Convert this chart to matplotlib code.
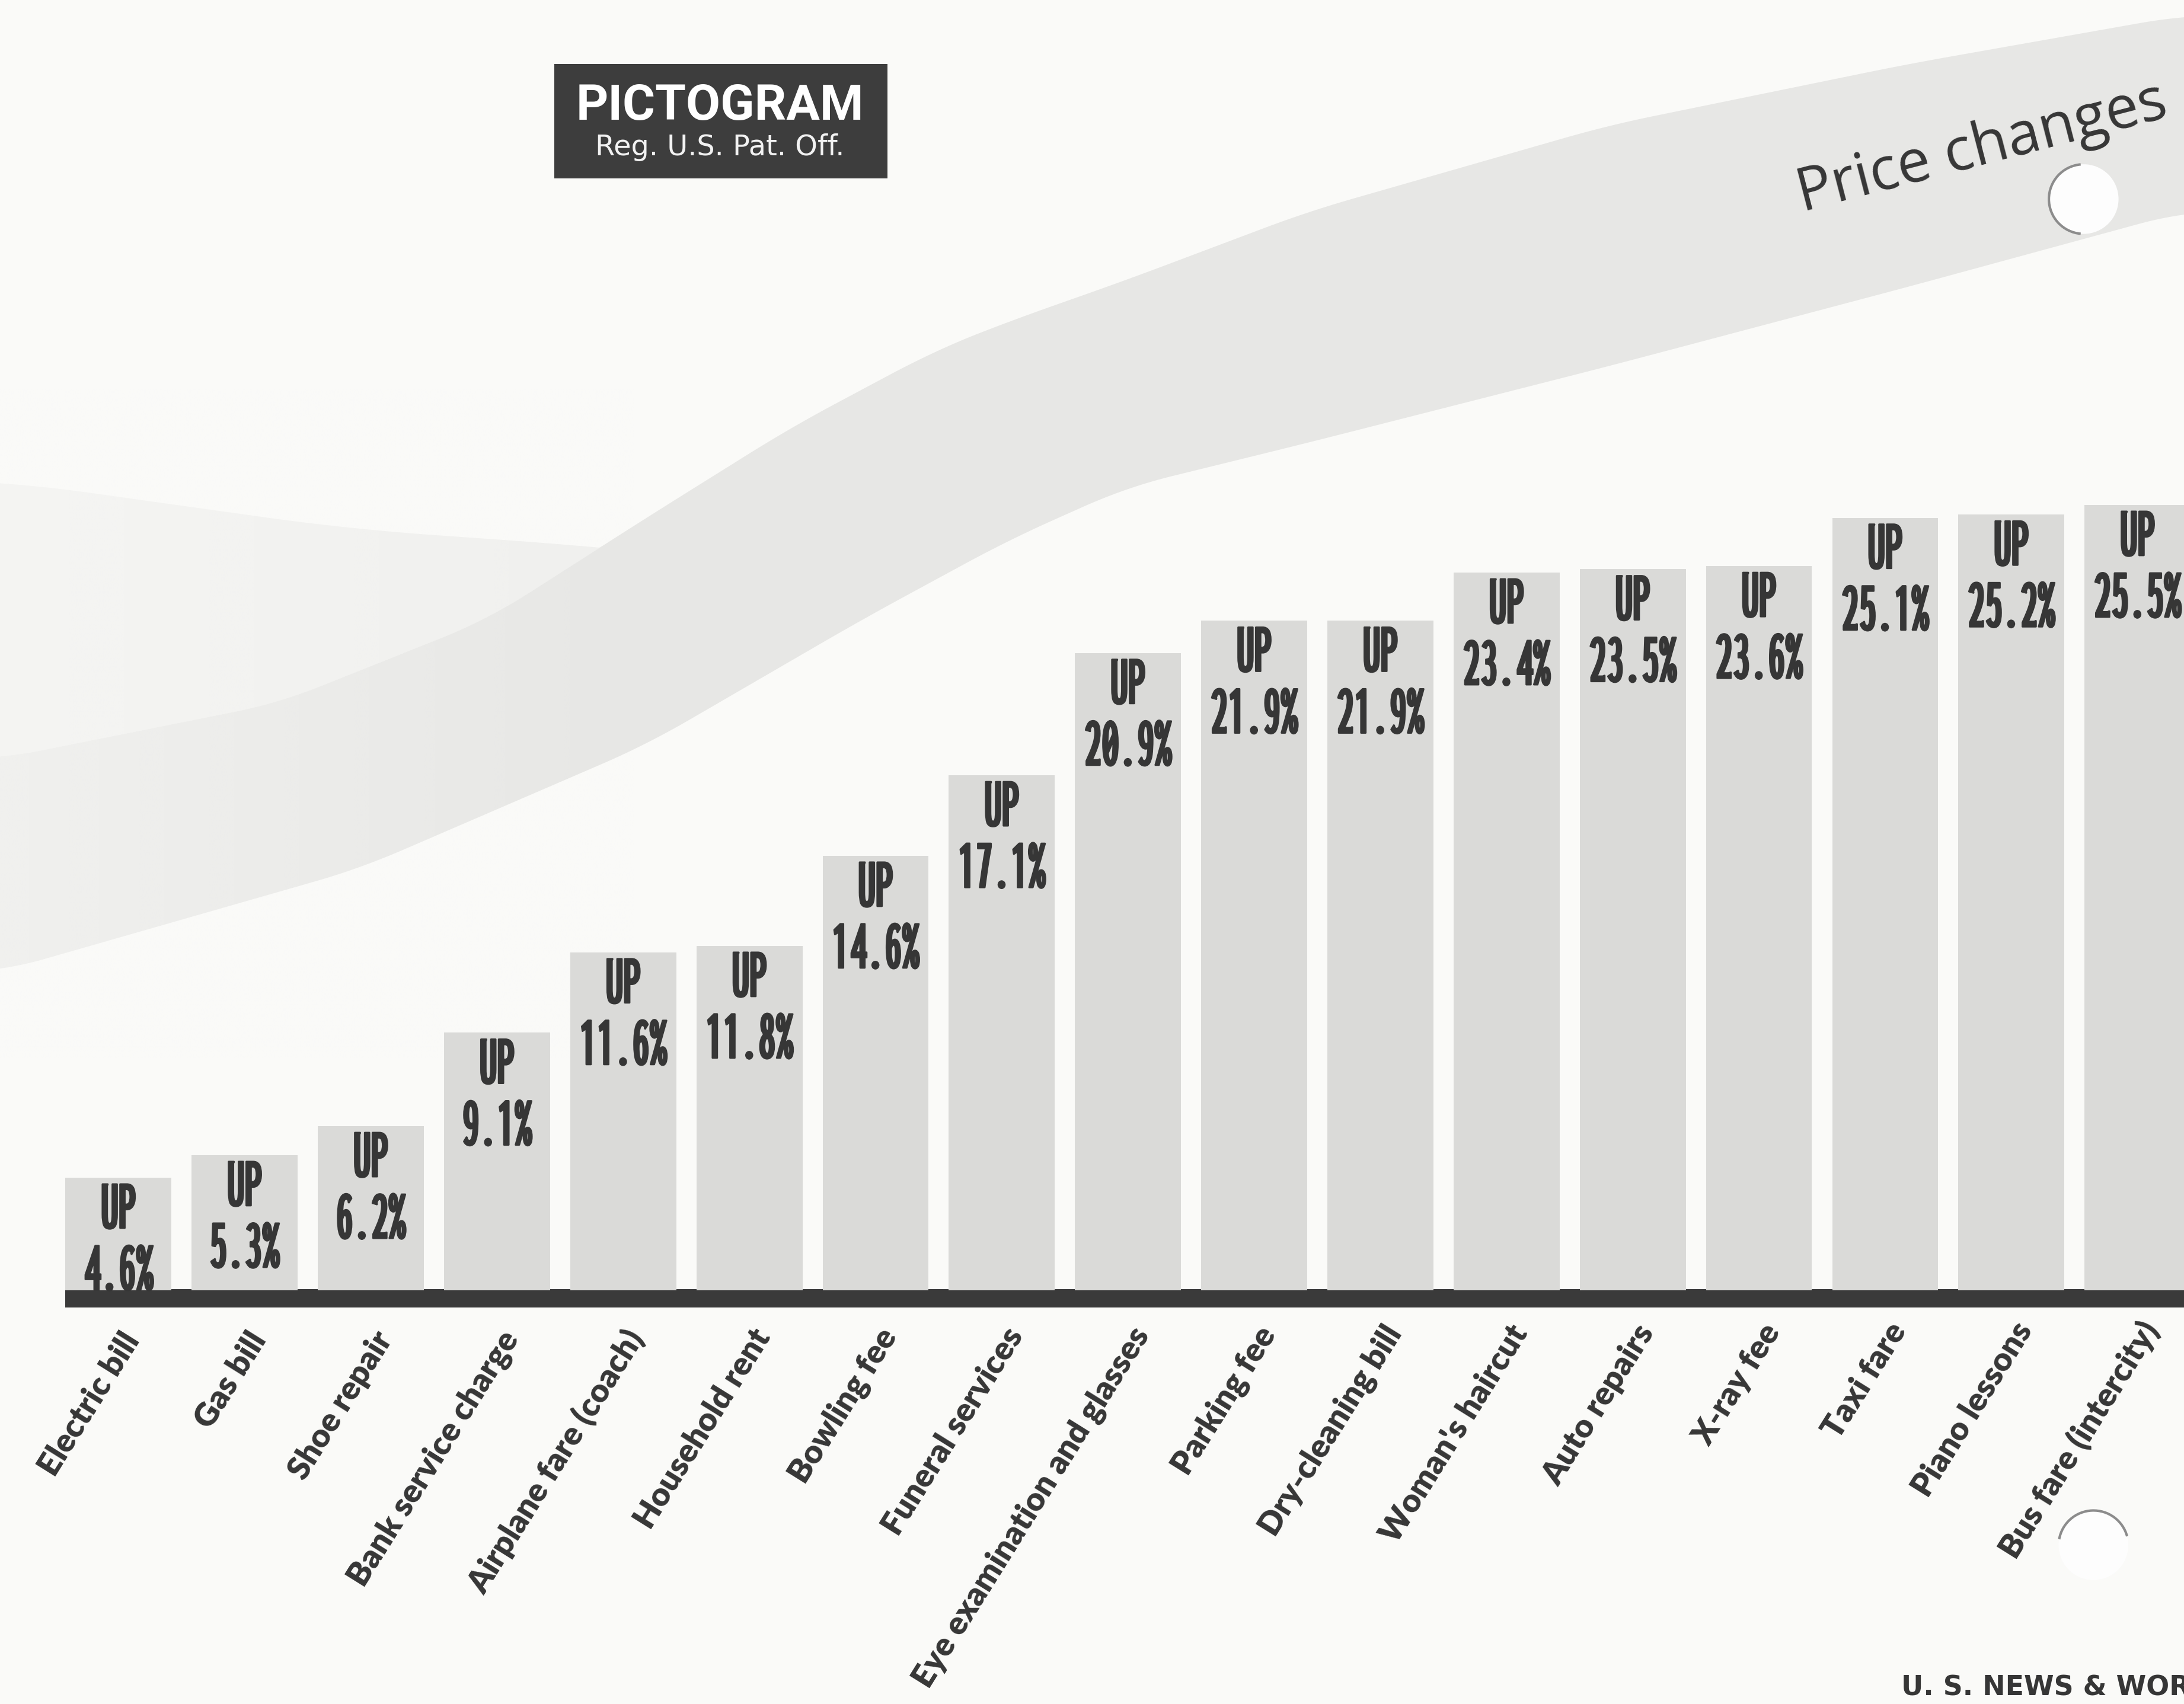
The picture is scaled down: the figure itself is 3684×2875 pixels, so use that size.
import matplotlib
matplotlib.use("Agg")
import matplotlib.pyplot as plt
import numpy as np
from matplotlib import font_manager, patheffects
from matplotlib.font_manager import FontProperties
from matplotlib.textpath import TextPath
from matplotlib.patches import Rectangle, Circle, Polygon, Arc

# chart data
categories = ["Electric bill", "Gas bill", "Shoe repair", "Bank service charge",
              "Airplane fare (coach)", "Household rent", "Bowling fee",
              "Funeral services", "Eye examination and glasses", "Parking fee",
              "Dry-cleaning bill", "Woman's haircut", "Auto repairs", "X-ray fee",
              "Taxi fare", "Piano lessons", "Bus fare (intercity)"]
increases = [4.6, 5.3, 6.2, 9.1, 11.6, 11.8, 14.6, 17.1, 20.9, 21.9, 21.9,
             23.4, 23.5, 23.6, 25.1, 25.2, 25.5]
bar_word = "UP"
title = "Price changes"
badge_title = "PICTOGRAM"
badge_sub = "Reg. U.S. Pat. Off."
credit = "U. S. NEWS & WORLD REPORT"

# colours
paper = "#fafaf8"
ink_col = "#363636"
band_grey = "#e7e7e5"
bar_grey = "#dadad8"

W, H = 1568, 1224          # layout grid (scaled-down reference pixels)
K = 3684 / W               # grid px -> output px
base_y = 927               # top of the base rule
px_per_pct = 23.12
zero = (952.2 - base_y) / px_per_pct


# ---- fonts -------------------------------------------------------------
def wnum(w):
    if isinstance(w, (int, float)):
        return w
    return {"ultralight": 200, "light": 300, "normal": 400, "regular": 400,
            "book": 400, "roman": 400, "medium": 500, "semibold": 600,
            "demibold": 600, "demi": 600, "bold": 700, "heavy": 800,
            "extra bold": 800, "black": 900}.get(str(w).lower(), 400)


def ink(s, fp):
    e = TextPath((0, 0), s, size=100, prop=fp).get_extents()
    return e.width, e.y1      # points at 100 pt


cands = [FontProperties(family="DejaVu Sans", weight="bold")]
for f in font_manager.fontManager.ttflist:
    tag = (f.name + " " + str(f.stretch)).lower()
    if ("narrow" in tag or "condensed" in tag) and "mono" not in tag \
            and f.style == "normal" and wnum(f.weight) >= 600 \
            and f.fname.lower().endswith((".ttf", ".otf")):
        cands.append(FontProperties(fname=f.fname))
best, best_r = cands[0], 1e9
for fp in cands:
    try:
        w, h = ink("21.9%", fp)
        r = w / h
    except Exception:
        continue
    if r < best_r:
        best, best_r = fp, r
cond_fp = best

installed = {f.name for f in font_manager.fontManager.ttflist}
label_font = "Lato" if "Lato" in installed else "DejaVu Sans"
body_font = "Open Sans" if "Open Sans" in installed else "DejaVu Sans"
badge_font = "Roboto" if "Roboto" in installed else "DejaVu Sans"
heavy = [patheffects.withStroke(linewidth=2.2, foreground=ink_col)]


def fit_size(s, fp, width_px, cap_px):
    w, h = ink(s, fp)
    return min(width_px * 72 / w, cap_px * 72 / h)


fig = plt.figure(figsize=(36.84, 28.75), dpi=100, facecolor=paper)

# ---- background: grey swoosh band --------------------------------------
bg = fig.add_axes([0, 0, 1, 1], zorder=0)
bg.axis("off")

up_x = [0, 200, 350, 464, 568, 671, 724, 809, 939, 1155, 1370, 1568]
up_y = [545, 505, 445, 372, 307, 252, 231, 201, 152, 90, 46, 11]
lo_x = [0, 258, 464, 619, 724, 809, 939, 1155, 1370, 1568]
lo_y = [698, 624, 535, 445, 388, 350, 318, 263, 206, 152]
fl_x = [0, 250, 420, 500]
fl_y = [345, 380, 392, 400]
xx = np.linspace(-40, W + 40, 800)


def smooth(v, n=31):
    k = np.ones(n) / n
    return np.convolve(np.pad(v, n // 2, mode="edge"), k, mode="valid")[:len(v)]


top = smooth(np.interp(xx, up_x, up_y))
bot = smooth(np.interp(xx, lo_x, lo_y))
flare = np.minimum(smooth(np.interp(xx, fl_x, fl_y), 61), top)
bg.add_patch(Polygon(np.column_stack([np.r_[xx, xx[::-1]], np.r_[flare, top[::-1]]]),
                     closed=True, facecolor="#f0f0ee", edgecolor="none"))
bg.add_patch(Polygon(np.column_stack([np.r_[xx, xx[::-1]], np.r_[top, bot[::-1]]]),
                     closed=True, facecolor=band_grey, edgecolor="none"))
# fade the left end of the band
fade = np.ones((2, 256, 4))
fade[..., :3] = matplotlib.colors.to_rgb(paper)
fade[..., 3] = np.linspace(0.5, 0.0, 256)[None, :]
bg.imshow(fade, extent=(0, 460, 760, 280), aspect="auto", zorder=2,
          interpolation="bilinear")
bg.set_xlim(0, W)
bg.set_ylim(H, 0)

# base rule
bg.add_patch(Rectangle((47, base_y - 1), W - 47 + 5, 13, facecolor="#3a3a3a",
                       edgecolor="none", zorder=3))

# title on the band
fig.text(1294 / W, 1 - 152 / H, title, rotation=14.5, rotation_mode="anchor",
         ha="left", va="baseline", fontsize=72, fontweight=500, color=ink_col,
         family=body_font)

# badge
bg.add_patch(Rectangle((398, 46), 239, 82, facecolor="#3d3d3d", edgecolor="none",
                       zorder=3))
badge_fp = FontProperties(family=badge_font, weight="bold")
s_badge = fit_size(badge_title, badge_fp, 202 * K, 27 * K)
cap_b = ink(badge_title, badge_fp)[1] * s_badge / 72 / K
fig.text(517 / W, 1 - (73 + cap_b / 2) / H, badge_title, ha="center", va="baseline",
         fontproperties=badge_fp, fontsize=s_badge, color="white")
sub_fp = FontProperties(family="DejaVu Sans")
s_sub = fit_size(badge_sub, sub_fp, 199 * K, 15.5 * K)
cap_s = ink(badge_sub, sub_fp)[1] * s_sub / 72 / K
fig.text(517 / W, 1 - (104 + cap_s / 2) / H, badge_sub, ha="center", va="baseline",
         fontproperties=sub_fp, fontsize=s_sub, color="#f2f2f2")

# ---- bars ----------------------------------------------------------------
ax = fig.add_axes([0, 1 - base_y / H, 1, base_y / H], zorder=1)
ax.patch.set_alpha(0)
x = np.arange(len(categories))
ax.set_xlim(-0.42 - 47 / 90.6, -0.42 + (W - 47) / 90.6)
ax.set_ylim(zero, zero + base_y / px_per_pct)
ax.bar(x, increases, width=0.84, color=bar_grey, linewidth=0)
ax.axis("off")

s_lab = fit_size("21.9%", cond_fp, 78 * K, 32 * K)
cap_up = ink(bar_word, cond_fp)[1] * s_lab / 72
cap_num = ink("21.9%", cond_fp)[1] * s_lab / 72

name_fp = FontProperties(family=label_font, weight="heavy")
s_name = 298 * K * 72 / ink("Eye examination and glasses", name_fp)[0]

for xi, v, name in zip(x, increases, categories):
    ax.annotate(bar_word, xy=(xi, v), xytext=(0, -(20.5 * K + cap_up / 2)),
                textcoords="offset pixels", ha="center", va="baseline",
                fontproperties=cond_fp, fontsize=s_lab, color=ink_col,
                path_effects=heavy, annotation_clip=False)
    ax.annotate(f"{v:.1f}%", xy=(xi, v), xytext=(0, -(64.5 * K + cap_num / 2)),
                textcoords="offset pixels", ha="center", va="baseline",
                fontproperties=cond_fp, fontsize=s_lab, color=ink_col,
                path_effects=heavy, annotation_clip=False)
    ax.annotate(name, xy=(xi, zero), xytext=(16 * K, -(36 - 8 * xi / 16) * K),
                textcoords="offset pixels", rotation=58, rotation_mode="anchor",
                ha="right", va="baseline", fontproperties=name_fp, fontsize=s_name,
                color=ink_col, annotation_clip=False)

# credit line
fig.text(1365 / W, 1 - 1218 / H, credit, ha="left", va="baseline", fontsize=33,
         fontweight="bold", color=ink_col, family="DejaVu Sans")

# ---- punched holes ---------------------------------------------------------
ov = fig.add_axes([0, 0, 1, 1], zorder=5)
ov.set_xlim(0, W)
ov.set_ylim(H, 0)
ov.axis("off")
for (cx, cy), (t1, t2) in zip([(1496, 143), (1503, 1110)], [(95, 265), (190, 345)]):
    ov.add_patch(Circle((cx, cy), 25, facecolor="#fdfdfd", edgecolor="none"))
    ov.add_patch(Arc((cx, cy), 50, 50, theta1=t1, theta2=t2, color="#8c8c8c", lw=3))

fig.savefig("out.png", dpi=100, facecolor=fig.get_facecolor())
